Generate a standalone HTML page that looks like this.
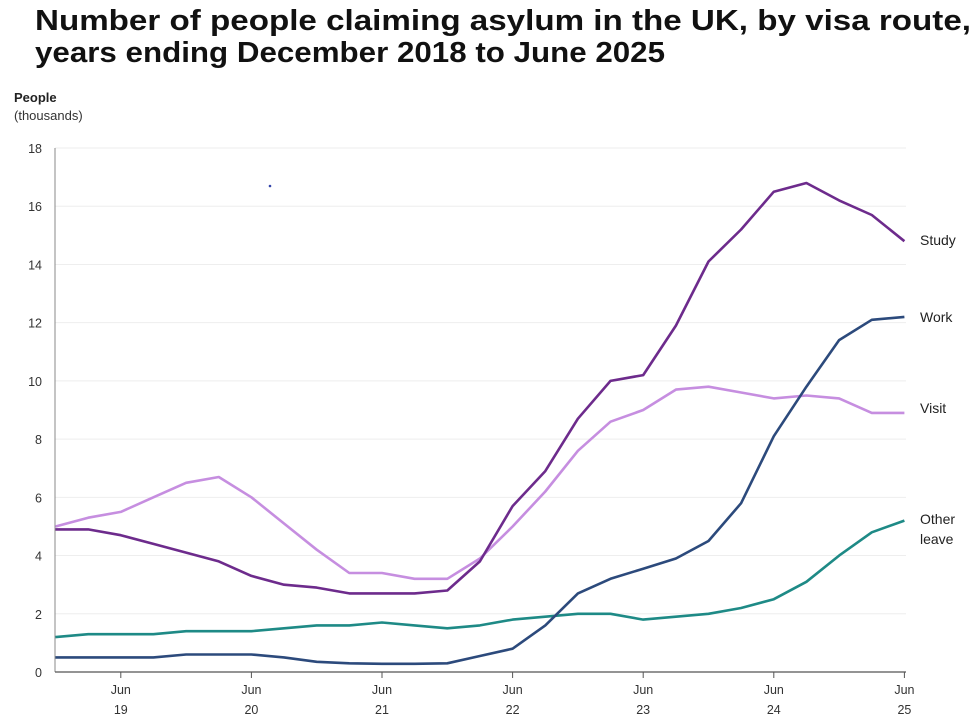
<!DOCTYPE html>
<html><head><meta charset="utf-8"><style>
html,body{margin:0;padding:0;background:#fff;width:980px;height:721px;overflow:hidden}
svg{display:block}
text{font-family:"Liberation Sans",Arial,sans-serif}
</style></head><body>
<svg id="c" width="980" height="721" viewBox="0 0 980 721">
<text x="35" y="30" font-size="29" font-weight="bold" fill="#111" textLength="936" lengthAdjust="spacingAndGlyphs">Number of people claiming asylum in the UK, by visa route,</text>
<text x="35" y="62" font-size="29" font-weight="bold" fill="#111" textLength="630" lengthAdjust="spacingAndGlyphs">years ending December 2018 to June 2025</text>
<text x="14" y="102" font-size="13" font-weight="bold" fill="#222">People</text>
<text x="14" y="120" font-size="13" fill="#333">(thousands)</text>
<circle cx="270" cy="186" r="1.3" fill="#3344aa"/>
<g id="grid"></g>
<g id="lines"></g>
<text x="920" y="245" font-size="14" fill="#222">Study</text>
<text x="920" y="322" font-size="14" fill="#222">Work</text>
<text x="920" y="413" font-size="14" fill="#222">Visit</text>
<text x="920" y="524" font-size="14" fill="#222">Other</text>
<text x="920" y="544" font-size="14" fill="#222">leave</text>
</svg>
<script>
function Y(v){return 672-v*29.11}
function X(i){return 55.5+i*32.65}
var g=document.getElementById('grid'),h='';
for(var v=0;v<=18;v+=2){
 if(v>0)h+='<line x1="55" x2="906" y1="'+Y(v)+'" y2="'+Y(v)+'" stroke="#eee" stroke-width="1"/>';
 h+='<text x="42" y="'+(Y(v)+5)+'" font-size="12.5" fill="#333" text-anchor="end">'+v+'</text>';
}
h+='<line x1="55" x2="55" y1="148" y2="672" stroke="#888"/>';
h+='<line x1="55" x2="906" y1="672" y2="672" stroke="#555" stroke-width="1.2"/>';
for(var k=0;k<7;k++){var x=X(2+4*k);
 h+='<line x1="'+x+'" x2="'+x+'" y1="672" y2="678" stroke="#555"/>';
 h+='<text x="'+x+'" y="694" font-size="12.5" fill="#333" text-anchor="middle">Jun</text>';
 h+='<text x="'+x+'" y="714" font-size="12.5" fill="#333" text-anchor="middle">'+(19+k)+'</text>';}
g.innerHTML=h;
var S={
study:[4.9,4.9,4.7,4.4,4.1,3.8,3.3,3.0,2.9,2.7,2.7,2.7,2.8,3.8,5.7,6.9,8.7,10.0,10.2,11.9,14.1,15.2,16.5,16.8,16.2,15.7,14.8],
visit:[5.0,5.3,5.5,6.0,6.5,6.7,6.0,5.1,4.2,3.4,3.4,3.2,3.2,3.9,5.0,6.2,7.6,8.6,9.0,9.7,9.8,9.6,9.4,9.5,9.4,8.9,8.9],
work:[0.5,0.5,0.5,0.5,0.6,0.6,0.6,0.5,0.35,0.3,0.28,0.28,0.3,0.55,0.8,1.6,2.7,3.2,3.55,3.9,4.5,5.8,8.1,9.8,11.4,12.1,12.2],
other:[1.2,1.3,1.3,1.3,1.4,1.4,1.4,1.5,1.6,1.6,1.7,1.6,1.5,1.6,1.8,1.9,2.0,2.0,1.8,1.9,2.0,2.2,2.5,3.1,4.0,4.8,5.2]};
var C={visit:"#c68ee0",other:"#1e8a86",work:"#2c4a7c",study:"#6d2b8c"};
var l='';
["visit","other","work","study"].forEach(function(k){
 var p=S[k].map(function(v,i){return X(i).toFixed(1)+","+Y(v).toFixed(1)}).join(" ");
 l+='<polyline points="'+p+'" fill="none" stroke="'+C[k]+'" stroke-width="2.6" stroke-linejoin="round"/>';});
document.getElementById('lines').innerHTML=l;
</script>
</body></html>
